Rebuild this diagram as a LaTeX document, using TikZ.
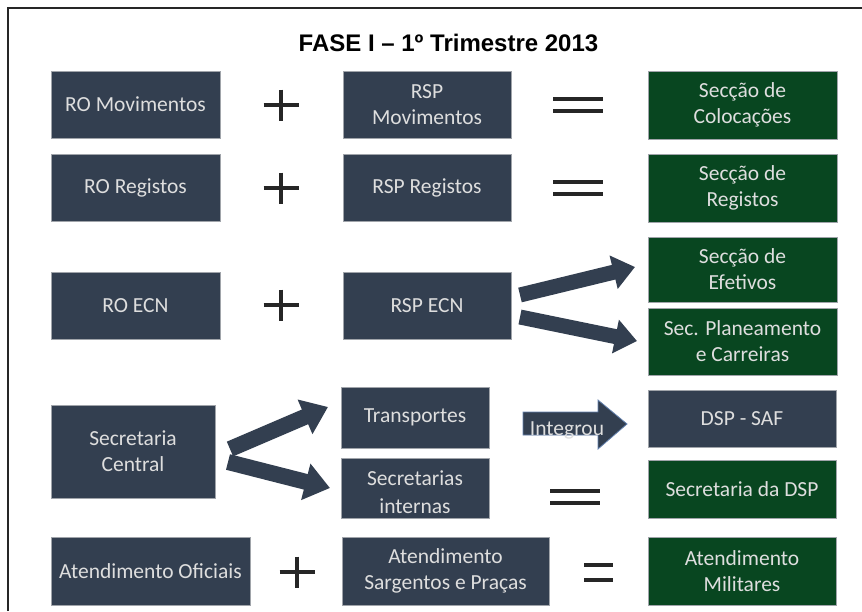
\documentclass[tikz,border=0pt]{standalone}
\usepackage{fontspec}
\setmainfont{Carlito}
\newfontfamily\titlefont{Liberation Sans}
\usetikzlibrary{arrows.meta}
\definecolor{navy}{RGB}{51,63,80}
\definecolor{dgreen}{RGB}{8,70,32}
\definecolor{edgegray}{RGB}{160,164,170}
\definecolor{boxtxt}{RGB}{222,222,222}
\definecolor{arrowedge}{RGB}{100,130,175}
\tikzset{
  box/.style={rectangle, fill=navy, draw=edgegray, line width=0.8pt, text=boxtxt,
    font=\fontsize{21.5}{26}\selectfont, align=center, inner sep=0pt},
  gbox/.style={box, fill=dgreen},
  opsign/.style={line width=3.5pt, draw=black!85},
  blockarrow/.style={draw=navy, line width=#1},
}
\begin{document}
\begin{tikzpicture}[x=1pt,y=-1pt]
\useasboundingbox (0,0) rectangle (862,611);
\fill[white] (0,0) rectangle (862,611);
\draw[line width=1.5pt, black!85] (8,611) -- (8,8) -- (862,8);

\node[anchor=base, font=\titlefont\bfseries\fontsize{24}{28}\selectfont] (title) at (448.5,51) {FASE I – 1º Trimestre 2013};

% row 1
\node[box, minimum width=169pt, minimum height=67pt] (rom) at (135.5,104.5) {RO Movimentos};
\node[box, minimum width=168pt, minimum height=67pt] (rspm) at (427,104.5) {RSP\\Movimentos};
\node[gbox, minimum width=189pt, minimum height=68pt] (coloc) at (742.5,105) {Secção de\\Colocações};
% row 2
\node[box, minimum width=169pt, minimum height=67pt] (ror) at (135.5,187.5) {RO Registos};
\node[box, minimum width=168pt, minimum height=67pt] (rspr) at (427,187.5) {RSP Registos};
\node[gbox, minimum width=189pt, minimum height=68pt] (reg) at (742.5,188) {Secção de\\Registos};
% row 3
\node[box, minimum width=169pt, minimum height=67pt] (roecn) at (135.5,305.5) {RO ECN};
\node[box, minimum width=168pt, minimum height=67pt] (rspecn) at (427,305.5) {RSP ECN};
\node[gbox, minimum width=189pt, minimum height=65pt] (efet) at (742.5,269.5) {Secção de\\Efetivos};
\node[gbox, minimum width=189pt, minimum height=67pt] (plan) at (742.5,341.5) {Sec. Planeamento\\e Carreiras};
% row 4
\node[box, minimum width=164pt, minimum height=93pt] (secc) at (133,451.5) {Secretaria\\Central};
\node[box, minimum width=148pt, minimum height=61pt] (transp) at (415,417.5) {Transportes};
\node[box, minimum width=148pt, minimum height=60pt] (secint) at (415,488) {};
\node[text=boxtxt, font=\fontsize{21.5}{28}\selectfont, align=center] (secinttxt) at (415,492) {Secretarias\\internas};
\node[box, minimum width=188pt, minimum height=57pt] (dsp) at (742,418.5) {DSP - SAF};
\node[gbox, minimum width=188pt, minimum height=58pt] (secdsp) at (742,489) {Secretaria da DSP};
% row 5
\node[box, minimum width=199pt, minimum height=68pt] (atof) at (150.5,571) {Atendimento Oficiais};
\node[box, minimum width=207pt, minimum height=68pt] (atsp) at (445.5,571) {Atendimento\\Sargentos e Praças};
\node[gbox, minimum width=188pt, minimum height=68pt] (atmil) at (742,571) {Atendimento\\Militares};

% plus signs
\foreach \x/\y in {281/105, 281/188, 281/305, 297/572}{
  \draw[opsign] (\x-17.5,\y) -- (\x+17.5,\y);
  \draw[opsign] (\x,\y-15.5) -- (\x,\y+15.5);
}
% equals signs
\foreach \x/\y in {578/105, 578/188, 575/496.5}{
  \draw[line width=4pt, draw=black!85] (\x-25,\y-6) -- (\x+25,\y-6);
  \draw[line width=4pt, draw=black!85] (\x-25,\y+6) -- (\x+25,\y+6);
}
\draw[line width=4.5pt, draw=black!85] (584,565) -- (613,565);
\draw[line width=4.5pt, draw=black!85] (584,580) -- (613,580);

% block arrows from RSP ECN
\coordinate (e1s) at (520,295);
\coordinate (e1t) at (635,267);
\coordinate (e2s) at (520,317);
\coordinate (e2t) at (637,341);
\draw[blockarrow=15pt, -{Triangle[length=22pt,width=33pt]}] (e1s) -- (e1t);
\draw[blockarrow=15pt, -{Triangle[length=22pt,width=33pt]}] (e2s) -- (e2t);

% block arrows from Secretaria Central
\coordinate (s1s) at (230,449);
\coordinate (s1t) at (328,407);
\coordinate (s2s) at (228,462);
\coordinate (s2t) at (330,488);
\draw[blockarrow=16pt, -{Triangle[length=25pt,width=36pt]}] (s1s) -- (s1t);
\draw[blockarrow=16pt, -{Triangle[length=25pt,width=36pt]}] (s2s) -- (s2t);

% Integrou arrow
\filldraw[fill=navy, draw=arrowedge, line width=0.8pt]
  (523,412) -- (598,412) -- (598,400) -- (627,424) -- (598,449) -- (598,435) -- (523,435) -- cycle;
\node[text=boxtxt, font=\fontsize{21.5}{26}\selectfont, inner sep=0pt] (integ) at (567,430) {Integrou};
\end{tikzpicture}
\end{document}
